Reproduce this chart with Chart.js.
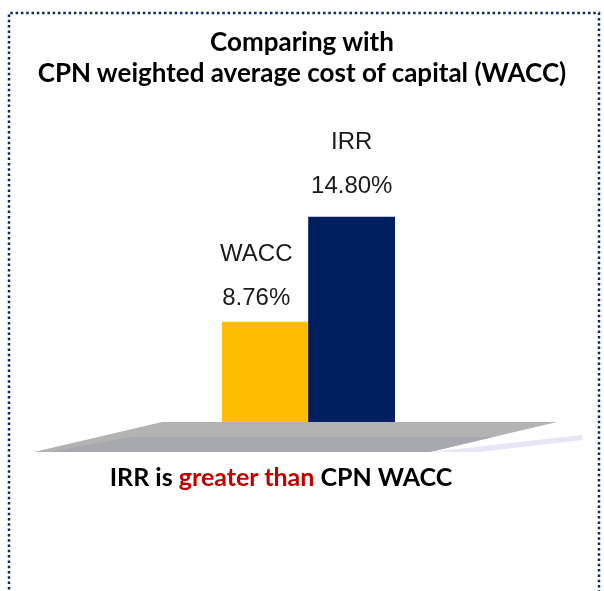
<!DOCTYPE html>
<html>
<head>
<meta charset="utf-8">
<script src="https://cdn.jsdelivr.net/npm/chart.js@4/dist/chart.umd.min.js"></script>
<style>
  html, body { margin: 0; padding: 0; background: #fff; }
  #wrap { position: relative; width: 604px; height: 591px; overflow: hidden; }
  canvas { position: absolute; left: 0; top: 0; }
  .txt {
    position: absolute; left: 0; width: 604px; text-align: center;
    font-family: Lato, "Open Sans", sans-serif; font-weight: 700;
    font-size: 26px; line-height: 31px; color: #000;
  }
  #title { top: 26px; left: 0; }
  #caption { top: 461px; left: -21px; font-size: 25px; }
  #caption .red { color: #c00000; }
</style>
</head>
<body>
<div id="wrap">
  <canvas id="chart" width="604" height="591"></canvas>
  <div id="title" class="txt">Comparing with<br>CPN weighted average cost of capital (WACC)</div>
  <div id="caption" class="txt">IRR is <span class="red">greater than</span> CPN WACC</div>
</div>
<script>
// data
const categories = ['WACC', 'IRR'];
const rates = [8.76, 14.80];
const barColors = ['#ffbf00', '#001f5f'];

// label nudges (px) so the text sits where the original put it
const labelDx = [-9, 0];
const labelDy = [-24, -31];

// dotted frame round the whole picture (open at the bottom)
const framePlugin = {
  id: 'frame',
  beforeDraw(chart) {
    const ctx = chart.ctx;
    ctx.save();
    ctx.strokeStyle = '#0c2566';
    ctx.lineWidth = 2.5;
    ctx.setLineDash([2.5, 2.8]);
    ctx.beginPath();
    ctx.moveTo(9, 600);
    ctx.lineTo(9, 13);
    ctx.lineTo(599, 13);
    ctx.lineTo(599, 600);
    ctx.stroke();
    ctx.restore();
  }
};

// grey "3D" floor under the bars
const floorPlugin = {
  id: 'floor',
  beforeDatasetsDraw(chart) {
    const ctx = chart.ctx;
    const y0 = chart.chartArea.bottom;
    ctx.save();
    // light top
    ctx.fillStyle = '#b3b3b3';
    ctx.beginPath();
    ctx.moveTo(162, y0);
    ctx.lineTo(557, y0);
    ctx.lineTo(430, y0 + 30);
    ctx.lineTo(34, y0 + 30);
    ctx.closePath();
    ctx.fill();
    // darker front strip
    ctx.fillStyle = '#a8a9ae';
    ctx.beginPath();
    ctx.moveTo(130, y0 + 15);
    ctx.lineTo(493, y0 + 15);
    ctx.lineTo(430, y0 + 30);
    ctx.lineTo(50, y0 + 30);
    ctx.closePath();
    ctx.fill();
    // pale shadow on the right
    ctx.fillStyle = '#e6e6f7';
    ctx.beginPath();
    ctx.moveTo(430, y0 + 30);
    ctx.lineTo(582, y0 + 13);
    ctx.lineTo(582, y0 + 18);
    ctx.lineTo(480, y0 + 30);
    ctx.closePath();
    ctx.fill();
    ctx.restore();
  }
};

// category name + value above each bar
const barLabels = {
  id: 'barLabels',
  afterDatasetsDraw(chart) {
    const ctx = chart.ctx;
    const meta = chart.getDatasetMeta(0);
    ctx.save();
    ctx.font = '24px "Liberation Sans", Arial, sans-serif';
    ctx.fillStyle = '#1a1a1a';
    ctx.textAlign = 'center';
    ctx.textBaseline = 'middle';
    meta.data.forEach((bar, i) => {
      const x = bar.x + labelDx[i];
      const y = bar.y + labelDy[i];
      ctx.fillText(rates[i].toFixed(2) + '%', x, y);
      ctx.fillText(categories[i], x, y - 44);
    });
    ctx.restore();
  }
};

const ctx = document.getElementById('chart').getContext('2d');
new Chart(ctx, {
  type: 'bar',
  data: {
    labels: categories,
    datasets: [{
      data: rates,
      backgroundColor: barColors,
      borderWidth: 0,
      barPercentage: 1,
      categoryPercentage: 1
    }]
  },
  options: {
    responsive: false,
    animation: false,
    layout: { padding: { left: 222, right: 209, top: 179, bottom: 169 } },
    plugins: {
      legend: { display: false },
      tooltip: { enabled: false },
      title: { display: false }
    },
    scales: {
      x: { display: false },
      y: { display: false, min: 3, max: 17 }
    }
  },
  plugins: [framePlugin, floorPlugin, barLabels]
});
</script>
</body>
</html>
